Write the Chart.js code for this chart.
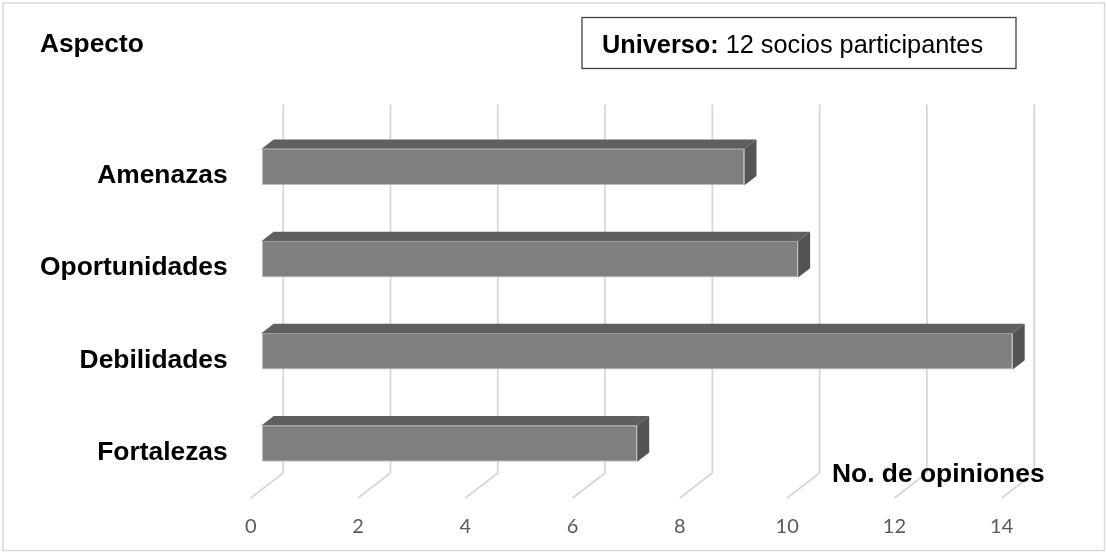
<!DOCTYPE html>
<html>
<head>
<meta charset="utf-8">
<script src="https://cdn.jsdelivr.net/npm/chart.js@4"></script>
<style>
  html, body { margin: 0; padding: 0; background: #ffffff; }
  canvas { display: block; }
</style>
</head>
<body>
<canvas id="chart" width="1107" height="554"></canvas>
<script>
// Aspects of the SWOT review and how many opinions each received
const categories = ['Amenazas', 'Oportunidades', 'Debilidades', 'Fortalezas'];
const opinions = [9, 10, 14, 7];
const axisMax = 14;
const axisStep = 2;

const universeLabel = 'Universo:';
const universeText = ' 12 socios participantes';

// Oblique 3-D look: offsets from the bar plane to the back wall, to the floor front, and bar depth
const WALL = { dx: 21.5, dy: -16.5 };
const FLOOR_FRONT = { dx: -11, dy: 8.5 };
const BAR_DEPTH = { dx: 12, dy: -9.3 };

const SANS = '"Liberation Sans", Arial, sans-serif';

const depthPlugin = {
  id: 'depth',
  beforeDatasetsDraw(chart) {
    const { ctx, chartArea: a, scales: { x } } = chart;
    ctx.save();
    ctx.strokeStyle = '#d6d6d6';
    ctx.lineWidth = 1.7;
    x.ticks.forEach(t => {
      const px = x.getPixelForValue(t.value);
      ctx.beginPath();
      ctx.moveTo(px + WALL.dx, a.top + WALL.dy);
      ctx.lineTo(px + WALL.dx, a.bottom + WALL.dy);
      ctx.lineTo(px + FLOOR_FRONT.dx, a.bottom + FLOOR_FRONT.dy);
      ctx.stroke();
    });
    ctx.restore();
  },
  afterDatasetsDraw(chart) {
    const { ctx } = chart;
    const meta = chart.getDatasetMeta(0);
    ctx.save();
    meta.data.forEach(el => {
      const p = el.getProps(['x', 'y', 'base', 'height'], true);
      const x0 = Math.min(p.base, p.x), x1 = Math.max(p.base, p.x);
      const top = p.y - p.height / 2, bottom = p.y + p.height / 2;
      // top face
      ctx.fillStyle = '#5f5f5f';
      ctx.beginPath();
      ctx.moveTo(x0, top);
      ctx.lineTo(x0 + BAR_DEPTH.dx, top + BAR_DEPTH.dy);
      ctx.lineTo(x1 + BAR_DEPTH.dx, top + BAR_DEPTH.dy);
      ctx.lineTo(x1, top);
      ctx.closePath();
      ctx.fill();
      // end face
      ctx.fillStyle = '#545454';
      ctx.beginPath();
      ctx.moveTo(x1, top);
      ctx.lineTo(x1 + BAR_DEPTH.dx, top + BAR_DEPTH.dy);
      ctx.lineTo(x1 + BAR_DEPTH.dx, bottom + BAR_DEPTH.dy);
      ctx.lineTo(x1, bottom);
      ctx.closePath();
      ctx.fill();
      // faint edge between top and front
      ctx.strokeStyle = '#9a9a9a';
      ctx.lineWidth = 1;
      ctx.beginPath();
      ctx.moveTo(x0, top + 0.5);
      ctx.lineTo(x1, top + 0.5);
      ctx.stroke();
    });
    ctx.restore();
  },
  afterDraw(chart) {
    const { ctx } = chart;
    ctx.save();
    // outer frame
    ctx.strokeStyle = '#d9d9d9';
    ctx.lineWidth = 1.5;
    ctx.strokeRect(3, 3, 1101.5, 547.5);

    ctx.fillStyle = '#000000';
    ctx.textBaseline = 'alphabetic';
    ctx.textAlign = 'left';
    ctx.font = 'bold 26.3px ' + SANS;
    ctx.fillText('Aspecto', 40, 52);
    ctx.font = 'bold 26.4px ' + SANS;
    ctx.fillText('No. de opiniones', 832, 482);

    // universe box
    ctx.strokeStyle = '#404040';
    ctx.lineWidth = 1.3;
    ctx.strokeRect(582, 17.5, 434, 51);
    ctx.font = 'bold 25.3px ' + SANS;
    ctx.fillText(universeLabel, 602, 53);
    const w = ctx.measureText(universeLabel).width;
    ctx.font = '25.3px ' + SANS;
    ctx.fillText(universeText, 602 + w, 53);
    ctx.restore();
  }
};

new Chart(document.getElementById('chart'), {
  type: 'bar',
  data: {
    labels: categories,
    datasets: [{
      data: opinions,
      backgroundColor: '#7f7f7f',
      borderColor: '#c4c4c4',
      borderWidth: 1,
      borderSkipped: false,
      categoryPercentage: 1,
      barPercentage: 0.396
    }]
  },
  options: {
    indexAxis: 'y',
    responsive: false,
    animation: false,
    devicePixelRatio: 1,
    layout: { padding: { left: 0, right: 94.3, top: 121, bottom: 0 } },
    plugins: {
      legend: { display: false },
      tooltip: { enabled: false }
    },
    scales: {
      x: {
        min: 0,
        max: axisMax,
        grid: { display: false, drawTicks: false },
        border: { display: false },
        ticks: {
          stepSize: axisStep,
          labelOffset: FLOOR_FRONT.dx,
          padding: 25.5,
          color: '#595959',
          font: { family: 'Lato, "Open Sans", sans-serif', size: 20 }
        },
        afterFit(scale) { scale.height = 64.5; }
      },
      y: {
        grid: { display: false, drawTicks: false },
        border: { display: false },
        ticks: {
          labelOffset: 9,
          padding: 34,
          color: '#000000',
          font: { family: SANS, size: 26.4, weight: 'bold' }
        },
        afterFit(scale) { scale.width = 261.7; }
      }
    }
  },
  plugins: [depthPlugin]
});
</script>
</body>
</html>
